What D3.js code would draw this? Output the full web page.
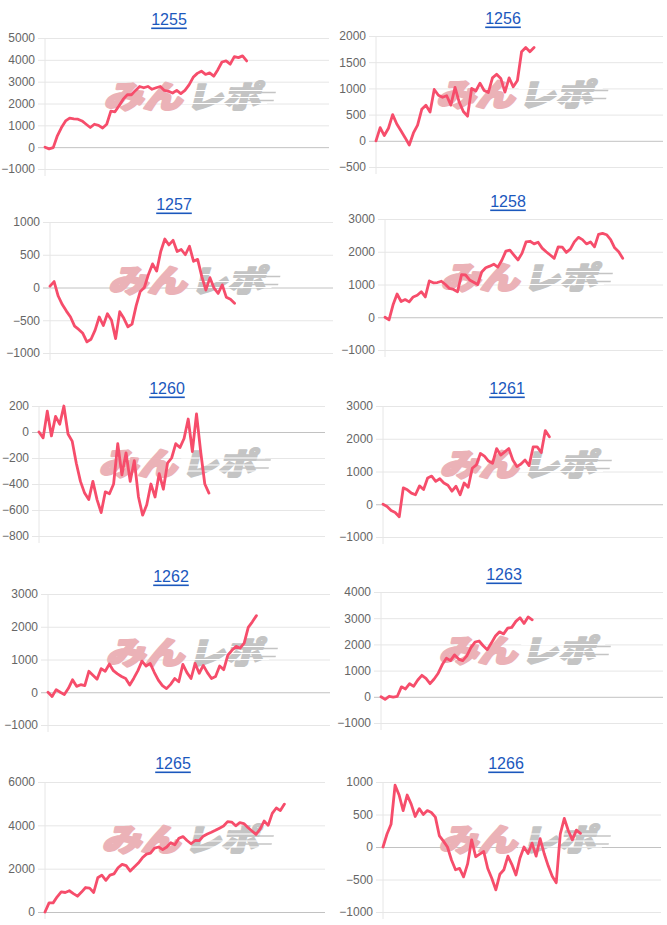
<!DOCTYPE html>
<html>
<head>
<meta charset="utf-8">
<script src="https://cdn.jsdelivr.net/npm/d3@7"></script>
<style>
  body { margin: 0; background: #fff; }
  svg { display: block; font-family: "Liberation Sans", Arial, Helvetica, sans-serif; }
</style>
</head>
<body>
<div id="chart"></div>
<script>
// --- data -------------------------------------------------------------
var titles = ["1255", "1256", "1257", "1258", "1260", "1261", "1262", "1263", "1265", "1266"];

// number of x categories on every chart (the lines stop before the end)
var slotCount = 70;

var t1255 = [-1000, 0, 1000, 2000, 3000, 4000, 5000];
var t1256 = [-500, 0, 500, 1000, 1500, 2000];
var t1257 = [-1000, -500, 0, 500, 1000];
var t1258 = [-1000, 0, 1000, 2000, 3000];
var t1260 = [-800, -600, -400, -200, 0, 200];
var t1261 = [-1000, 0, 1000, 2000, 3000];
var t1262 = [-1000, 0, 1000, 2000, 3000];
var t1263 = [-1000, 0, 1000, 2000, 3000, 4000];
var t1265 = [0, 2000, 4000, 6000];
var t1266 = [-1000, -500, 0, 500, 1000];

var v1255 = [0,-80,-20,520,900,1200,1330,1300,1280,1200,1050,900,1050,1000,880,1050,1650,1620,1900,2200,
  2400,2400,2600,2780,2720,2780,2650,2720,2780,2600,2560,2480,2600,2450,2600,2850,3200,3380,3480,3330,
  3400,3250,3550,3900,3950,3800,4150,4100,4180,3950];
var v1256 = [0,250,100,240,500,320,190,60,-80,150,300,600,680,550,980,870,830,860,680,1020,
  740,560,470,1000,950,1100,960,920,1200,1270,1190,930,1200,1030,1150,1700,1780,1700,1780];
var v1257 = [20,90,-130,-260,-360,-450,-590,-640,-700,-830,-790,-650,-450,-580,-400,-500,-780,-370,-470,-600,
  -560,-280,-60,0,200,360,250,550,740,650,720,550,580,500,630,400,430,170,-40,150,
  -10,-90,40,-150,-180,-240];
var v1258 = [0,-80,380,710,480,540,470,620,670,780,620,1110,1050,1060,1100,1000,880,850,780,1300,
  1290,1140,1070,1000,1380,1510,1560,1620,1530,1740,2020,2050,1900,1750,1950,2300,2320,2240,2290,2110,
  2000,1900,1800,2150,2140,1980,2080,2300,2440,2370,2240,2300,2150,2530,2560,2520,2370,2120,2000,1800];
var v1260 = [0,-45,160,-30,120,60,200,-15,-70,-240,-380,-470,-520,-380,-520,-620,-460,-475,-400,-90,
  -330,-160,-380,-220,-500,-640,-560,-400,-500,-320,-440,-240,-200,-90,-120,-50,100,-150,140,-150,
  -400,-470];
var v1261 = [0,-70,-190,-250,-380,500,440,340,290,560,450,800,860,700,780,650,580,400,550,290,
  650,520,1100,1200,1550,1470,1320,1250,1700,1500,1600,1700,1350,1150,1230,1350,1180,1750,1750,1580,
  2250,2060];
var v1262 = [0,-130,80,0,-70,120,380,180,230,200,640,520,400,720,640,860,660,560,480,420,
  220,430,660,950,800,880,610,370,200,110,240,420,320,850,600,420,880,580,820,600,
  420,480,800,690,1130,1280,1400,1350,1500,1980,2150,2340];
var v1263 = [0,-100,20,-10,20,380,300,500,400,640,820,700,500,680,900,1230,1470,1380,1600,1440,
  1380,1560,1880,2090,2130,1950,1800,2050,2320,2480,2400,2620,2650,2880,3020,2800,3050,2940];
var v1265 = [0,420,420,700,930,900,980,850,730,920,1130,1100,900,1580,1700,1460,1700,1760,2040,2200,
  2140,1890,2080,2260,2500,2670,2720,2950,3000,2880,3000,3200,3100,3400,3480,3300,3150,3300,3290,3500,
  3600,3680,3770,3870,3970,4170,4150,3980,4120,4080,3900,3740,3580,3820,4200,4000,4550,4800,4680,4980];
var v1266 = [0,200,350,950,800,560,800,660,470,590,500,560,530,460,170,90,0,-200,-350,-330,
  -460,-260,110,-150,-110,-70,-330,-480,-660,-420,-350,-140,-270,-430,-170,0,-100,60,-140,130,
  -100,-290,-450,-550,200,440,250,110,260,210];

var tickSets = [t1255, t1256, t1257, t1258, t1260, t1261, t1262, t1263, t1265, t1266];
var valueSets = [v1255, v1256, v1257, v1258, v1260, v1261, v1262, v1263, v1265, v1266];

// --- layout (plot boxes, title positions) ------------------------------
var boxes = [
  {left: 45,  right: 329, top: 38,  bottom: 169, tx: 169, ty: 19},
  {left: 376, right: 663, top: 36,  bottom: 167, tx: 503, ty: 18},
  {left: 50,  right: 333, top: 222, bottom: 353, tx: 174, ty: 204},
  {left: 385, right: 663, top: 219, bottom: 350, tx: 508, ty: 201},
  {left: 39,  right: 325, top: 406, bottom: 536, tx: 167, ty: 388},
  {left: 383, right: 663, top: 406, bottom: 537, tx: 507, ty: 388},
  {left: 48,  right: 330, top: 594, bottom: 725, tx: 171, ty: 576},
  {left: 381, right: 663, top: 592, bottom: 723, tx: 504, ty: 574},
  {left: 45,  right: 325, top: 782, bottom: 912, tx: 173, ty: 763},
  {left: 383, right: 661, top: 782, bottom: 912, tx: 506, ty: 763}
];

var lineColor = "#f64d6b";

var svg = d3.select("#chart")
  .append("svg")
  .attr("width", 667)
  .attr("height", 925);

svg.append("rect").attr("width", 667).attr("height", 925).attr("fill", "#fff");

titles.forEach(function(title, k) {
  var box = boxes[k];
  var ticks = tickSets[k];
  var values = valueSets[k];
  var w = box.right - box.left;

  var x = d3.scaleLinear().domain([0, slotCount - 1]).range([box.left, box.right]);
  var y = d3.scaleLinear().domain(d3.extent(ticks)).range([box.bottom, box.top]);

  var g = svg.append("g");

  // title (link style)
  g.append("text")
    .attr("x", box.tx)
    .attr("y", box.ty)
    .attr("text-anchor", "middle")
    .attr("dominant-baseline", "central")
    .attr("font-size", 16)
    .attr("fill", "#1b58bd")
    .style("text-decoration", "underline")
    .text(title);

  // y axis with gridlines
  var axis = g.append("g")
    .attr("transform", "translate(" + box.left + ",0)")
    .call(d3.axisLeft(y).tickValues(ticks).tickFormat(d3.format("d"))
      .tickSizeInner(-w).tickSizeOuter(0).tickPadding(10));

  axis.select(".domain").remove();
  axis.selectAll(".tick line")
    .attr("x1", -7)
    .attr("stroke", function(d) { return d === 0 ? "#c2c2c2" : "#e6e6e6"; });
  axis.selectAll(".tick text")
    .attr("x", -10)
    .attr("font-size", 12)
    .attr("font-family", "'Liberation Sans', Arial, sans-serif")
    .attr("fill", "#666");

  // left border
  g.append("line")
    .attr("x1", box.left).attr("x2", box.left)
    .attr("y1", box.top).attr("y2", box.bottom + 7)
    .attr("stroke", "#e6e6e6");

  // watermark
  var cx = (box.left + box.right) / 2;
  var cy = (box.top + box.bottom) / 2 - 8;
  var wm = g.append("g")
    .attr("transform", "translate(" + cx + "," + cy + ") skewX(-14)")
    .attr("font-family", "'Noto Sans CJK JP', sans-serif")
    .attr("font-weight", 900)
    .attr("font-size", 31)
    .attr("stroke-linejoin", "round");
  wm.append("text")
    .attr("x", -80).attr("y", 12)
    .attr("textLength", 78).attr("lengthAdjust", "spacingAndGlyphs")
    .attr("fill", "#ebb2b7").attr("stroke", "#ebb2b7").attr("stroke-width", 2.5)
    .text("みん");
  wm.append("text")
    .attr("x", 2).attr("y", 12)
    .attr("textLength", 74).attr("lengthAdjust", "spacingAndGlyphs")
    .attr("fill", "#c4c4c4").attr("stroke", "#c4c4c4").attr("stroke-width", 2)
    .text("レポ");
  [-5, 2, 8].forEach(function(dy) {
    wm.append("line")
      .attr("x1", -2).attr("x2", 82)
      .attr("y1", dy).attr("y2", dy)
      .attr("stroke", "#fff").attr("stroke-width", 1.2);
  });
  [-3, 5].forEach(function(dy) {
    wm.append("line")
      .attr("x1", 60).attr("x2", 88)
      .attr("y1", dy).attr("y2", dy)
      .attr("stroke", "#c4c4c4").attr("stroke-width", 1.6);
  });

  // series line
  var line = d3.line()
    .x(function(d, i) { return x(i); })
    .y(function(d) { return y(d); });

  g.append("path")
    .datum(values)
    .attr("d", line)
    .attr("fill", "none")
    .attr("stroke", lineColor)
    .attr("stroke-width", 2.8)
    .attr("stroke-linejoin", "round")
    .attr("stroke-linecap", "round");
});
</script>
</body>
</html>
